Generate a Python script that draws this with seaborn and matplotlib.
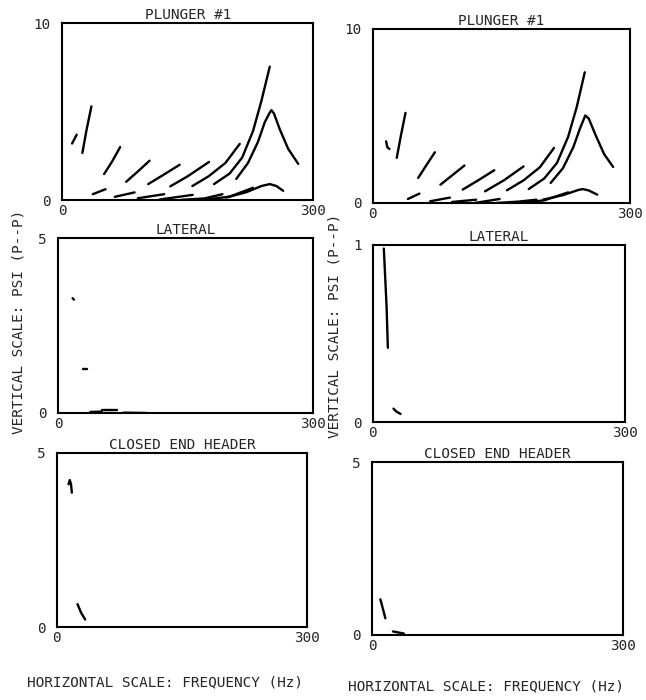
import numpy as np
import pandas as pd
import matplotlib
matplotlib.use("Agg")
import matplotlib.pyplot as plt
import seaborn as sns

# ---------------- data ----------------
titles = ["PLUNGER #1", "LATERAL", "CLOSED END HEADER"]
x_ticks = [0, 300]
y_max_left = [10, 5, 5]
y_max_right = [10, 1, 5]

# Plunger #1, left
pl_left_x = [
    [12, 17.5],
    [24.3, 29, 35.1],
    [50.3, 60, 69.4],
    [76.6, 90, 104.5],
    [102.9, 120, 140.4],
    [129.2, 150, 175.5],
    [155.6, 175, 195, 212.2],
    [181.5, 200, 215, 228, 238, 248],
    [208, 222, 234, 242, 248, 250, 253, 260, 270, 282],
    [36.7, 51.9],
    [63, 86.6],
    [90.5, 122],
    [116.5, 156],
    [142.4, 170, 191.5],
    [168, 200, 228],
    [196, 220, 238, 248, 256, 264],
]
pl_left_y = [
    [3.2, 3.7],
    [2.67, 3.9, 5.3],
    [1.48, 2.2, 3.0],
    [1.04, 1.6, 2.23],
    [0.91, 1.4, 2.0],
    [0.78, 1.35, 2.16],
    [0.8, 1.35, 2.1, 3.18],
    [0.91, 1.5, 2.4, 3.9, 5.6, 7.54],
    [1.2, 2.1, 3.3, 4.4, 4.95, 5.08, 4.9, 4.0, 2.9, 2.05],
    [0.34, 0.62],
    [0.19, 0.44],
    [0.11, 0.34],
    [0.04, 0.30],
    [0.02, 0.1, 0.34],
    [0.02, 0.2, 0.7],
    [0.15, 0.45, 0.8, 0.91, 0.8, 0.53],
]

# Plunger #1, right
pl_right_x = [
    [15.6, 17, 19.5],
    [28, 33, 38.2],
    [53, 63, 72.5],
    [79, 93, 107],
    [105, 123, 141.8],
    [131, 153, 176],
    [156.6, 176, 195, 211.5],
    [182, 200, 215, 228, 238, 247.4],
    [207.6, 222, 234, 242, 248, 252, 260, 270, 280.5],
    [41, 54.5],
    [67, 90],
    [92.6, 120.7],
    [118.8, 148],
    [144, 170, 191],
    [171, 200, 228],
    [198.5, 222, 240, 245, 252, 262],
]
pl_right_y = [
    [3.54, 3.2, 3.1],
    [2.59, 3.9, 5.17],
    [1.44, 2.2, 2.91],
    [1.05, 1.6, 2.15],
    [0.77, 1.3, 1.88],
    [0.67, 1.3, 2.1],
    [0.73, 1.3, 2.05, 3.16],
    [0.8, 1.4, 2.3, 3.8, 5.5, 7.5],
    [1.15, 2.0, 3.2, 4.3, 5.02, 4.85, 3.9, 2.8, 2.07],
    [0.23, 0.54],
    [0.1, 0.31],
    [0.06, 0.19],
    [0.0, 0.23],
    [0.0, 0.08, 0.19],
    [0.0, 0.15, 0.61],
    [0.19, 0.45, 0.75, 0.8, 0.72, 0.48],
]

# Lateral
lat_left_x = [[17, 18.5], [28.7, 34.2], [38, 51], [51, 68.8], [76.7, 104]]
lat_left_y = [[3.28, 3.24], [1.25, 1.25], [0.03, 0.04], [0.1, 0.1], [0.01, 0.0]]
lat_right_x = [[13.2, 14.5, 16.5, 18], [24.7, 28, 33.1]]
lat_right_y = [[0.98, 0.85, 0.65, 0.42], [0.076, 0.06, 0.046]]

# Closed end header
ceh_left_x = [[14, 15.5, 17, 18], [24.8, 29, 34]]
ceh_left_y = [[4.1, 4.22, 4.1, 3.86], [0.66, 0.42, 0.22]]
ceh_right_x = [[9.9, 13, 15.9], [25, 38]]
ceh_right_y = [[1.03, 0.75, 0.48], [0.1, 0.04]]

# ---------------- figure ----------------
sns.set_style("white")
plt.rcParams["font.family"] = ["DejaVu Sans Mono", "DejaVu Sans"]
FS = 10.4

fig = plt.figure(figsize=(6.46, 7.0), dpi=100)

positions = {
    (0, 0): [0.096, 0.714, 0.389, 0.253],
    (0, 1): [0.577, 0.710, 0.398, 0.249],
    (1, 0): [0.090, 0.410, 0.395, 0.250],
    (1, 1): [0.577, 0.397, 0.390, 0.253],
    (2, 0): [0.088, 0.104, 0.387, 0.249],
    (2, 1): [0.576, 0.093, 0.388, 0.247],
}

data = {
    (0, 0): (pl_left_x, pl_left_y),
    (0, 1): (pl_right_x, pl_right_y),
    (1, 0): (lat_left_x, lat_left_y),
    (1, 1): (lat_right_x, lat_right_y),
    (2, 0): (ceh_left_x, ceh_left_y),
    (2, 1): (ceh_right_x, ceh_right_y),
}


def to_frame(xs, ys):
    rows = []
    for i, (cx, cy) in enumerate(zip(xs, ys)):
        for k, (a, b) in enumerate(zip(cx, cy)):
            rows.append({"curve": i, "order": k, "f": a, "p": b})
    return pd.DataFrame(rows)


for (r, c), pos in positions.items():
    ax = fig.add_axes(pos)
    xs, ys = data[(r, c)]
    df = to_frame(xs, ys)
    sns.lineplot(data=df, x="f", y="p", units="curve", estimator=None,
                 sort=False, color="black", lw=1.7, ax=ax, legend=False)
    ymax = y_max_left[r] if c == 0 else y_max_right[r]
    ax.set_xlim(0, 300)
    ax.set_ylim(0, ymax)
    ax.set_xticks(x_ticks)
    ax.set_xticklabels([str(v) for v in x_ticks])
    ax.set_yticks([0, ymax])
    ax.set_yticklabels(["0", str(ymax)])
    ax.tick_params(axis="both", length=0, labelsize=FS)
    ax.tick_params(axis="x", pad=3)
    ax.tick_params(axis="y", pad=8)
    ax.set_xlabel("")
    ax.set_ylabel("")
    for s in ax.spines.values():
        s.set_linewidth(1.5)
        s.set_color("black")
    ax.set_title(titles[r], fontsize=FS, pad=3)

fig.text(0.028, 0.54, "VERTICAL SCALE: PSI (P--P)", rotation=90,
         ha="center", va="center", fontsize=FS)
fig.text(0.518, 0.535, "VERTICAL SCALE: PSI (P--P)", rotation=90,
         ha="center", va="center", fontsize=FS)
fig.text(0.255, 0.025, "HORIZONTAL SCALE: FREQUENCY (Hz)", ha="center",
         va="center", fontsize=FS)
fig.text(0.752, 0.020, "HORIZONTAL SCALE: FREQUENCY (Hz)", ha="center",
         va="center", fontsize=FS)

fig.savefig("out.png", dpi=100)
